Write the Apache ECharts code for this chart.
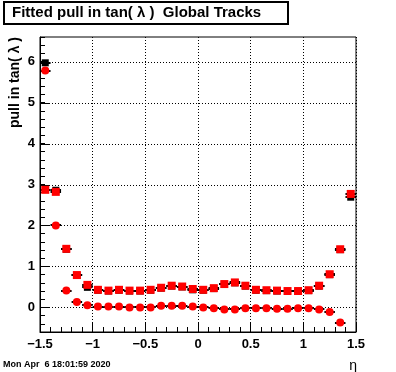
<!DOCTYPE html>
<html><head><meta charset="utf-8">
<script src="https://cdn.jsdelivr.net/npm/echarts@6/dist/echarts.min.js"></script>
<style>html,body{margin:0;padding:0;background:#fff}#c{width:396px;height:372px}</style>
</head><body><div id="c"></div>
<script>
// ---- data ----
const etaCenters = [-1.45,-1.35,-1.25,-1.15,-1.05,-0.95,-0.85,-0.75,-0.65,-0.55,-0.45,-0.35,-0.25,-0.15,-0.05,
                    0.05,0.15,0.25,0.35,0.45,0.55,0.65,0.75,0.85,0.95,1.05,1.15,1.25,1.35,1.45];
const binHalfWidth = 0.05;
const pullSquares = [2.87,2.82,1.43,0.79,0.55,0.43,0.41,0.43,0.41,0.41,0.43,0.48,0.53,0.51,0.45,
                     0.43,0.47,0.57,0.61,0.53,0.43,0.42,0.41,0.40,0.40,0.42,0.53,0.81,1.42,2.77];
const pullCircles = [5.78,2.00,0.41,0.13,0.05,0.02,0.02,0.02,0.00,0.00,0.00,0.04,0.04,0.04,0.02,
                     0.00,-0.02,-0.05,-0.05,-0.02,-0.02,-0.02,-0.03,-0.03,-0.02,-0.02,-0.05,-0.11,-0.37,null];
const pullBlack = [5.97,2.86,1.42,0.78,0.49,0.42,0.40,0.42,0.40,0.40,0.42,0.47,0.52,0.50,0.43,
                   0.42,0.46,0.56,0.60,0.52,0.42,0.41,0.40,0.39,0.39,0.41,0.52,0.80,1.41,2.69];
const yMajorTicks = [0,1,2,3,4,5,6];
const xRange = [-1.5, 1.5];
const yRange = [-0.6, 6.6];
const titleText = 'Fitted pull in tan( \u03bb )  Global Tracks';
const yTitle = 'pull in tan( \u03bb )';
const xTitle = '\u03b7';
const dateText = 'Mon Apr  6 18:01:59 2020';

// ---- build ----
const pts = arr => etaCenters.map((x,i)=> arr[i]==null ? null : [x, arr[i]]).filter(p=>p);
const FONT = 'Liberation Sans, Arial, sans-serif';
const fmtNum = v => String(v).replace('-', '\u2212');

function errBars(params, api){
  const x = api.value(0), y = api.value(1);
  const a = api.coord([x - binHalfWidth, y]);
  const b = api.coord([x + binHalfWidth, y]);
  const yy = Math.round(a[1]);
  return {type:'line', shape:{x1:a[0], y1:yy, x2:b[0], y2:yy}, style:{stroke:'#000', lineWidth:2}};
}
function yMajor(params, api){
  const v = api.value(1);
  const a = api.coord([xRange[0], v]);
  const b = api.coord([xRange[1], v]);
  const yy = Math.round(a[1]) + 0.5;
  return {type:'group', children:[
    {type:'line', shape:{x1:a[0], y1:yy, x2:b[0], y2:yy}, style:{stroke:'#000', lineWidth:1, lineDash:[1,2]}},
    {type:'line', shape:{x1:a[0], y1:yy, x2:a[0]+9, y2:yy}, style:{stroke:'#000', lineWidth:1}}
  ]};
}

const chart = echarts.init(document.getElementById('c'), null, {renderer:'canvas'});
chart.setOption({
  animation:false,
  backgroundColor:'#fff',
  grid:{left:40, right:40, top:37, bottom:40, show:true, borderColor:'#000', borderWidth:1, backgroundColor:'transparent'},
  xAxis:{type:'value', min:xRange[0], max:xRange[1], interval:0.5,
    axisLine:{show:true, onZero:false, lineStyle:{color:'#000', width:1}},
    axisTick:{show:true, inside:true, length:9, lineStyle:{color:'#000'}},
    minorTick:{show:true, splitNumber:5, length:5, lineStyle:{color:'#000'}},
    splitLine:{show:true, lineStyle:{color:'#000', type:[1,2], width:1}},
    axisLabel:{color:'#000', fontFamily:FONT, fontWeight:'bold', fontSize:13, margin:6, formatter:fmtNum}
  },
  yAxis:{type:'value', min:yRange[0], max:yRange[1], interval:0.2,
    axisLine:{show:true, onZero:false, lineStyle:{color:'#000', width:1}},
    axisTick:{show:true, inside:true, length:5, lineStyle:{color:'#000'}},
    splitLine:{show:false},
    axisLabel:{color:'#000', fontFamily:FONT, fontWeight:'bold', fontSize:13, margin:5,
      formatter:v => Math.abs(v - Math.round(v)) < 1e-6 ? fmtNum(Math.round(v)) : ''}
  },
  series:[
    {type:'custom', renderItem:yMajor, data:yMajorTicks.map(v=>[xRange[0], v]), silent:true, z:1},
    {type:'custom', renderItem:errBars, data:pts(pullBlack), z:2},
    {type:'custom', renderItem:errBars, data:pts(pullSquares), z:2},
    {type:'custom', renderItem:errBars, data:pts(pullCircles), z:2},
    {type:'scatter', data:pts(pullBlack), symbol:'rect', symbolSize:7, itemStyle:{color:'#000', opacity:1}, z:3},
    {type:'scatter', data:pts(pullSquares), symbol:'rect', symbolSize:8, itemStyle:{color:'#ff0000', opacity:1}, z:4},
    {type:'scatter', data:pts(pullCircles), symbol:'circle', symbolSize:8, itemStyle:{color:'#ff0000', opacity:1}, z:4}
  ],
  graphic:[
    {type:'rect', shape:{x:4, y:2, width:284, height:22}, style:{fill:'#fff', stroke:'#000', lineWidth:2}, z:10},
    {type:'text', x:12, y:13, style:{text:titleText, fill:'#000', font:'bold 15px '+FONT, verticalAlign:'middle'}, z:11},
    {type:'text', x:15, y:37, rotation:Math.PI/2, style:{text:yTitle, fill:'#000', font:'bold 14px '+FONT, align:'right', verticalAlign:'middle'}, z:11},
    {type:'text', x:357, y:366, style:{text:xTitle, fill:'#000', font:'14px '+FONT, align:'right', verticalAlign:'middle'}, z:11},
    {type:'text', x:3, y:365, style:{text:dateText, fill:'#000', font:'bold 9px '+FONT, verticalAlign:'middle'}, z:11}
  ]
});
</script></body></html>
